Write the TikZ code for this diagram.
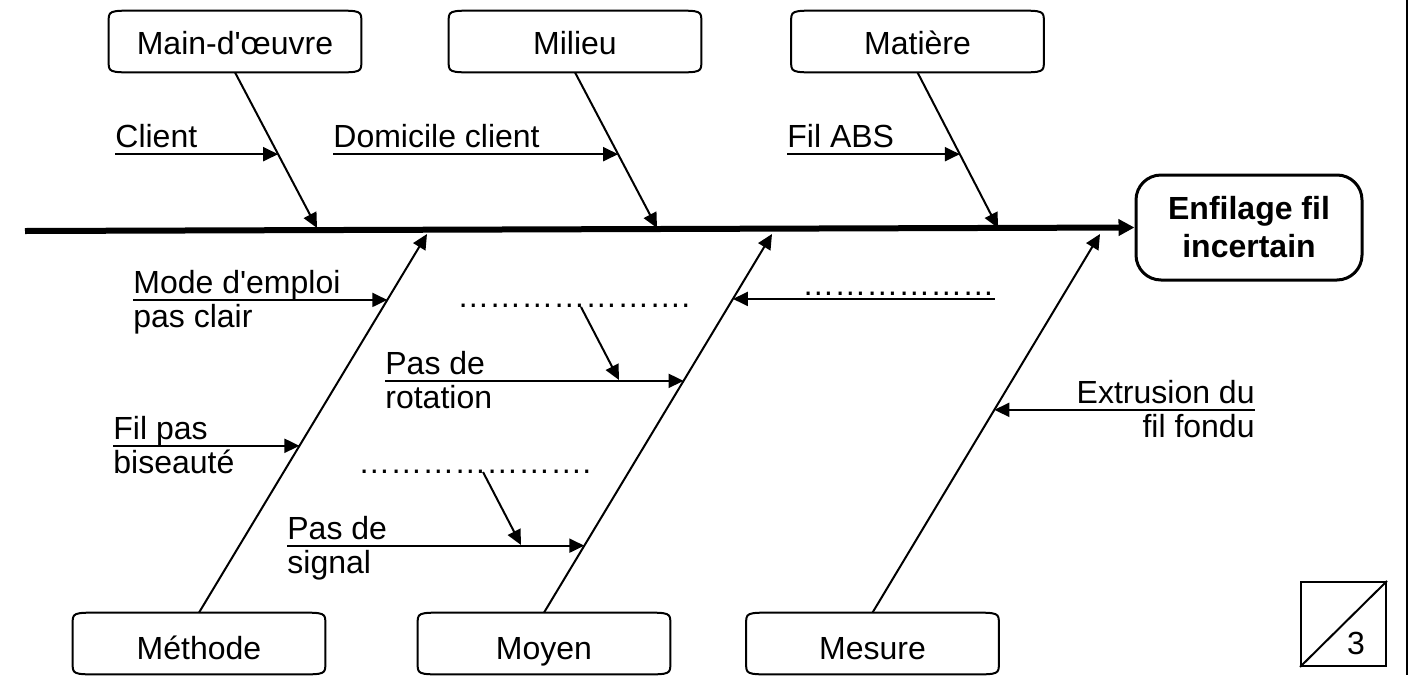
\documentclass[tikz,border=0pt]{standalone}
\usepackage{fontspec}
\newfontfamily\arial{Liberation Sans}
\usetikzlibrary{arrows.meta,calc}
\newcommand\lbl{\arial\fontsize{16pt}{17pt}\selectfont}
\newcommand\scrollframe[1]{%
  \draw[boxline] ($(#1.north west)+(0,12)$) .. controls (#1.north west) .. ($(#1.north west)+(28,0)$)
    -- ($(#1.north east)+(-28,0)$) .. controls (#1.north east) .. ($(#1.north east)+(0,12)$)
    -- ($(#1.south east)+(0,-12)$) .. controls (#1.south east) .. ($(#1.south east)+(-28,0)$)
    -- ($(#1.south west)+(28,0)$) .. controls (#1.south west) .. ($(#1.south west)+(0,-12)$) -- cycle;}
\tikzset{
  boxline/.style={line width=1pt},
  cat/.style={minimum width=126pt, minimum height=30.5pt, inner sep=0pt, font=\lbl},
  cattop/.style={cat, text height=14pt, text depth=1.5pt},
  catbot/.style={cat, text height=16pt, text depth=0.5pt},
  lab/.style={inner sep=0pt, font=\lbl, align=left},
  bone/.style={line width=1pt, -{Triangle[length=7.5pt,width=7pt]}},
  sub/.style={line width=1pt, -{Triangle[length=7.5pt,width=7pt]}},
  spine/.style={line width=3pt, -{Triangle[length=8pt,width=8pt]}},
  effect/.style={draw, line width=1.5pt, rounded corners=12.5pt, minimum width=113pt, minimum height=52.5pt, inner sep=0pt, align=center, font=\arial\fontsize{16pt}{19pt}\selectfont\bfseries}
}
\begin{document}
\begin{tikzpicture}[x=0.5pt,y=-0.5pt]
\useasboundingbox (0,0) rectangle (1408,675);
\fill (1405.5,0) rectangle (1408,675);

% category boxes
\node[cattop] (mo) at (235,41.5) {Main-d'œuvre};
\node[cattop] (mi) at (575,41.5) {Milieu};
\node[cattop] (ma) at (917.5,41.5) {Matière};
\node[catbot] (me) at (199,643.5) {Méthode};
\node[catbot] (my) at (544,643.5) {Moyen};
\node[catbot] (ms) at (872.5,643.5) {Mesure};
\scrollframe{mo}\scrollframe{mi}\scrollframe{ma}
\scrollframe{me}\scrollframe{my}\scrollframe{ms}

% effect
\node[effect] (eff) at (1249,227.5) {Enfilage fil\\incertain};

% spine
\coordinate (sp) at (25,231);
\draw[spine] (sp) -- (eff.west);

% bone tips on spine
\coordinate (t1) at (317,228);
\coordinate (t2) at (657,228);
\coordinate (t3) at (998,228);
\coordinate (b1) at (427,234);
\coordinate (b2) at (772,234);
\coordinate (b3) at (1100,234);

\draw[bone] (mo.south) -- (t1);
\draw[bone] (mi.south) -- (t2);
\draw[bone] (ma.south) -- (t3);
\draw[bone] (me.north) -- (b1);
\draw[bone] (my.north) -- (b2);
\draw[bone] (ms.north) -- (b3);

% points on bones
\coordinate (c1) at ($(mo.south)!0.5256!(t1)$);
\coordinate (c2) at ($(mi.south)!0.5256!(t2)$);
\coordinate (c3) at ($(ma.south)!0.5256!(t3)$);
\coordinate (m1) at ($(me.north)!0.8259!(b1)$);
\coordinate (m2) at ($(me.north)!0.4406!(b1)$);
\coordinate (y1) at ($(my.north)!0.8285!(b2)$);
\coordinate (y2) at ($(my.north)!0.6121!(b2)$);
\coordinate (y3) at ($(my.north)!0.1768!(b2)$);
\coordinate (s1) at ($(ms.north)!0.5356!(b3)$);

% labels (multi-line nodes: base = last line)
\node[lab, anchor=base west] (client) at (115,147) {Client};
\node[lab, anchor=base west] (dom) at (333,147) {Domicile client};
\node[lab, anchor=base west] (abs) at (787,147) {Fil ABS};
\node[lab, anchor=base west] (mode) at (133,327) {Mode d'emploi\\pas clair};
\node[lab, anchor=base west] (bis) at (113,473) {Fil pas\\biseauté};
\node[lab, anchor=base west] (rot) at (385,408) {Pas de\\rotation};
\node[lab, anchor=base west] (sig) at (287,573) {Pas de\\signal};
\node[lab, anchor=base east, align=right] (ext) at (1255,437) {Extrusion du\\fil fondu};
\node[lab, anchor=base west] (dots1) at (457,307) {{…}{…}{…}{…}{…}{…}{…}.};
\node[lab, anchor=base west] (dots2) at (358,473) {{…}{…}{…}{…}{…}{…}{…}.};
\node[lab, anchor=base west] (dots3) at (802,295) {{…}{…}{…}{…}{…}{…}};

% sub-cause arrows
\draw[sub] (c1 -| client.west) -- (c1);
\draw[sub] (c2 -| dom.west) -- (c2);
\draw[sub] (c3 -| abs.west) -- (c3);
\draw[sub] (m1 -| mode.west) -- (m1);
\draw[sub] (m2 -| bis.west) -- (m2);
\draw[sub] (y1 -| dots3.east) -- (y1);
\draw[sub] (y2 -| rot.west) -- (y2);
\draw[sub] (y3 -| sig.west) -- (y3);
\draw[sub] (s1 -| ext.east) -- (s1);

% arrows from dotted causes
\coordinate (d1s) at (581,307);
\coordinate (d1e) at (619,380);
\coordinate (d2s) at (483,472);
\coordinate (d2e) at (521,545);
\draw[sub] (d1s) -- (d1e);
\draw[sub] (d2s) -- (d2e);

% page mark
\node[draw, line width=1pt, minimum width=42.5pt, minimum height=42pt, inner sep=0pt] (pg) at (1343.5,624) {};
\draw[line width=1pt] (pg.south west) -- (pg.north east);
\node[font=\lbl, inner sep=0pt] (pgn) at (1356,643) {3};
\end{tikzpicture}
\end{document}
